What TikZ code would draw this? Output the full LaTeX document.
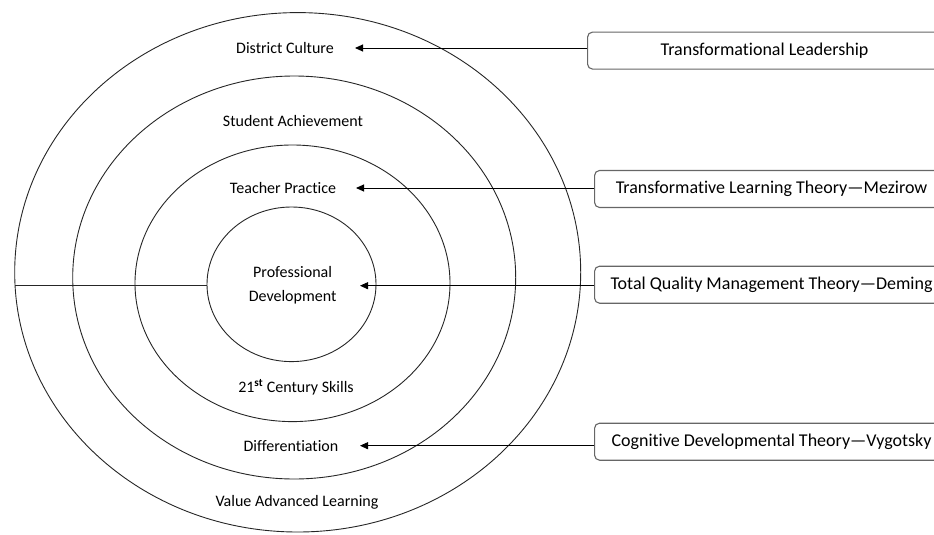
\documentclass[tikz,border=0pt]{standalone}
\usepackage{fontspec}
\setmainfont{Carlito}[Ligatures={TeX,NoCommon}]
\usetikzlibrary{arrows.meta}

\begin{document}
\begin{tikzpicture}[x=1pt,y=-1pt, % one unit is one pixel of the page, y runs down
        ring/.style={line width=0.9pt, black!85},
        lbl/.style={font=\fontsize{16}{24.4}\selectfont, inner sep=0pt, align=center},
        theory/.style={draw=black!60, line width=1.1pt, rounded corners=5pt, anchor=west,
                minimum width=354pt, minimum height=37pt, font=\fontsize{18}{21}\selectfont},
        arr/.style={line width=0.9pt, -{Triangle[length=8pt,width=7pt]}}]
        \useasboundingbox (0,0) rectangle (934,535);
        \clip (0,0) rectangle (934,535);

        % rings, outside in
        \draw[ring] (297.7,272.3) ellipse [x radius=283, y radius=259.7];
        \draw[ring] (294.2,277.5) ellipse [x radius=221.5, y radius=201.5];
        \draw[ring] (292.5,283.3) ellipse [x radius=157.5, y radius=138.3];
        \draw[ring] (291.5,284.3) ellipse [x radius=84.5, y radius=77.3];
        \coordinate (outL) at (15.1,285.5);
        \coordinate (inL) at (207,285.5);
        \draw[ring] (outL) -- (inL);

        % labels in the rings
        \node[lbl] (distr) at (285,47.7) {District Culture};
        \node[lbl] (stud) at (293,120.7) {Student Achievement};
        \node[lbl] (teach) at (283,187.7) {Teacher Practice};
        \node[lbl] (prof) at (292.6,285.5) {Professional\\Development};
        \node[lbl] (cent) at (296,387) {21\textsuperscript{\bfseries st} Century Skills};
        \node[lbl] (diff) at (291,446) {Differentiation};
        \node[lbl] (value) at (297,502) {Value Advanced Learning};

        % theories on the right
        \node[theory] (boxA) at (587,50.6) {Transformational Leadership};
        \node[theory] (boxB) at (594,189) {Transformative Learning Theory—Mezirow};
        \node[theory] (boxC) at (594,284.7) {Total Quality Management Theory—Deming};
        \node[theory] (boxD) at (594,441.7) {Cognitive Developmental Theory—Vygotsky};

        \coordinate (tipA) at (355,48);
        \coordinate (tipB) at (356,188);
        \coordinate (tipC) at (360,285.7);
        \coordinate (tipD) at (360,445.7);
        \draw[arr] (tipA -| boxA.west) -- (tipA);
        \draw[arr] (tipB -| boxB.west) -- (tipB);
        \draw[arr] (tipC -| boxC.west) -- (tipC);
        \draw[arr] (tipD -| boxD.west) -- (tipD);
\end{tikzpicture}
\end{document}
